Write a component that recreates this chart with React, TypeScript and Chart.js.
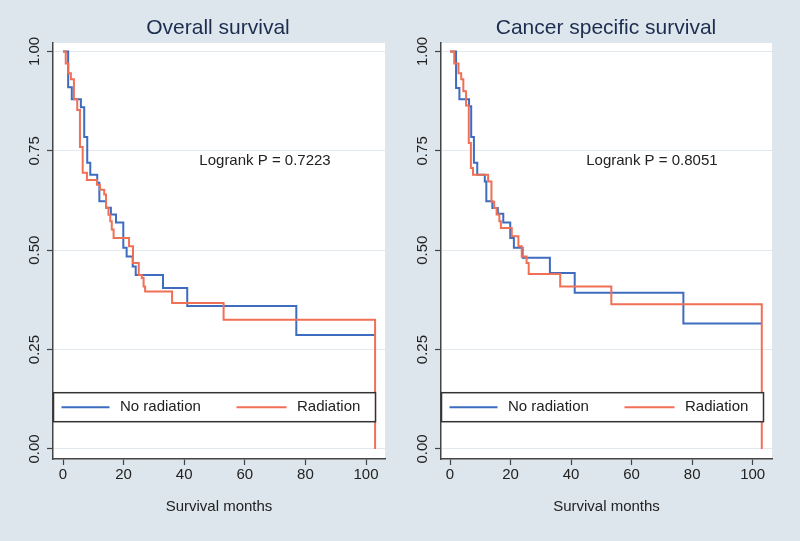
import React, { useEffect, useRef } from 'react';
import { Chart, registerables } from 'chart.js';

Chart.register(...registerables);

// ---- data ----
const xTicks = [0, 20, 40, 60, 80, 100];
const yTicks = [0, 0.25, 0.5, 0.75, 1];
const yTickLabels = ['0.00', '0.25', '0.50', '0.75', '1.00'];
const seriesLabels = ['No radiation', 'Radiation'];
const panelTitles = ['Overall survival', 'Cancer specific survival'];
const logrankLabels = ['Logrank P = 0.7223', 'Logrank P = 0.8051'];
const xAxisTitle = 'Survival months';

// Overall survival
const osNoRadTime = [0, 1.7, 2.9, 5.9, 7, 8, 9, 11.3, 12, 14.2, 15.8, 17.5, 19.9, 21, 23, 24, 33, 41, 77, 103];
const osNoRadSurv = [1, 0.91, 0.88, 0.86, 0.785, 0.72, 0.69, 0.67, 0.623, 0.607, 0.59, 0.57, 0.506, 0.484, 0.459, 0.438, 0.405, 0.36, 0.287, 0.287];
const osRadTime = [0, 0.9, 1.75, 2.6, 3.6, 4.7, 5.6, 6.5, 7.9, 11.2, 12.2, 13.6, 14.2, 15, 15.6, 16.1, 16.7, 21.8, 23.1, 25, 26, 26.6, 27.1, 36, 53, 103];
const osRadSurv = [1, 0.97, 0.945, 0.93, 0.88, 0.853, 0.76, 0.695, 0.677, 0.665, 0.652, 0.64, 0.607, 0.589, 0.573, 0.552, 0.531, 0.51, 0.468, 0.438, 0.43, 0.409, 0.396, 0.367, 0.325, 0];

// Cancer specific survival
const cssNoRadTime = [0, 2, 3.1, 6.3, 7, 7.9, 9, 11.5, 12, 14, 15.8, 17.6, 19.9, 21.1, 24, 33, 41.2, 77.1, 103];
const cssNoRadSurv = [1, 0.908, 0.88, 0.862, 0.785, 0.72, 0.69, 0.673, 0.623, 0.606, 0.592, 0.57, 0.531, 0.506, 0.481, 0.443, 0.393, 0.316, 0.316];
const cssRadTime = [0, 1.4, 2.8, 3.7, 4.4, 5.3, 6.2, 6.9, 7.6, 12.6, 13.7, 14.6, 15.4, 16.3, 16.8, 20.4, 22.6, 23.7, 25.3, 26, 36.4, 53.3, 103];
const cssRadSurv = [1, 0.97, 0.945, 0.93, 0.9, 0.864, 0.77, 0.707, 0.69, 0.673, 0.622, 0.606, 0.59, 0.573, 0.556, 0.535, 0.51, 0.484, 0.468, 0.44, 0.409, 0.364, 0];

const BLUE = '#3d6cc0';
const RED = '#f07056';
const FONT = '"Liberation Sans", Arial, Helvetica, sans-serif';
const TEXT = '#222222';
const AXIS = '#444444';
const GRID = '#e1e9ef';
const BG = '#dde6ec';

const toPoints = (t: number[], s: number[]) => t.map((x, i) => ({ x, y: s[i] }));

const decor = {
  id: 'decor',
  beforeDraw(chart: any) {
    const { ctx, chartArea: a } = chart;
    ctx.save();
    ctx.fillStyle = '#ffffff';
    ctx.fillRect(a.left, a.top, a.right - a.left, a.bottom - a.top);
    ctx.restore();
  },
  afterDatasetsDraw(chart: any) {
    const { ctx, chartArea: a } = chart;
    const L = a.left + 0.5;
    const W = 322;
    const top = a.bottom - 66.3;
    const H = 29;
    const mid = top + H / 2;
    ctx.save();
    ctx.fillStyle = '#ffffff';
    ctx.fillRect(L, top, W, H);
    ctx.lineWidth = 1.5;
    ctx.strokeStyle = '#333333';
    ctx.strokeRect(L, top, W, H);
    ctx.lineWidth = 2;
    ctx.strokeStyle = BLUE;
    ctx.beginPath();
    ctx.moveTo(L + 8, mid);
    ctx.lineTo(L + 56, mid);
    ctx.stroke();
    ctx.strokeStyle = RED;
    ctx.beginPath();
    ctx.moveTo(L + 183, mid);
    ctx.lineTo(L + 233, mid);
    ctx.stroke();
    ctx.fillStyle = TEXT;
    ctx.font = `15px ${FONT}`;
    ctx.textAlign = 'left';
    ctx.textBaseline = 'middle';
    ctx.fillText(seriesLabels[0], L + 66.5, mid);
    ctx.fillText(seriesLabels[1], L + 243.5, mid);
    ctx.restore();
  },
  afterDraw(chart: any, _args: any, opts: any) {
    const { ctx, chartArea: a, scales } = chart;
    ctx.save();
    ctx.fillStyle = TEXT;
    ctx.font = `15px ${FONT}`;
    ctx.textAlign = 'center';
    ctx.textBaseline = 'middle';
    yTicks.forEach((v, i) => {
      const y = scales.y.getPixelForValue(v);
      ctx.save();
      ctx.translate(a.left - 18, y);
      ctx.rotate(-Math.PI / 2);
      ctx.fillText(yTickLabels[i], 0, 0);
      ctx.restore();
    });
    ctx.textAlign = 'left';
    ctx.fillText(opts.pLabel, scales.x.getPixelForValue(45), scales.y.getPixelForValue(0.725));
    ctx.restore();
  },
};

type PanelProps = {
  left: number;
  title: string;
  pLabel: string;
  noRad: { x: number; y: number }[];
  rad: { x: number; y: number }[];
  padL: number;
  padR: number;
  yW: number;
  xMin: number;
  xMax: number;
};

function Panel(p: PanelProps) {
  const ref = useRef<HTMLCanvasElement | null>(null);
  useEffect(() => {
    if (!ref.current) return;
    const chart = new Chart(ref.current, {
      type: 'line',
      data: {
        datasets: [
          {
            label: seriesLabels[1],
            data: p.rad,
            borderColor: RED,
            backgroundColor: RED,
            borderWidth: 2,
            pointRadius: 0,
            stepped: 'before',
            fill: false,
            order: 0,
          },
          {
            label: seriesLabels[0],
            data: p.noRad,
            borderColor: BLUE,
            backgroundColor: BLUE,
            borderWidth: 2,
            pointRadius: 0,
            stepped: 'before',
            fill: false,
            order: 1,
          },
        ],
      },
      options: {
        animation: false,
        responsive: false,
        devicePixelRatio: 1,
        layout: { padding: { left: p.padL, right: p.padR, top: 0, bottom: 0 } },
        plugins: {
          legend: { display: false },
          tooltip: { enabled: false },
          title: {
            display: true,
            text: p.title,
            color: '#1c2d50',
            font: { family: FONT, size: 21, weight: 'normal', lineHeight: 1.2 },
            padding: { top: 15.4, bottom: 2.4 },
          },
          decor: { pLabel: p.pLabel },
        } as any,
        scales: {
          x: {
            type: 'linear',
            min: p.xMin,
            max: p.xMax,
            afterBuildTicks: (s: any) => {
              s.ticks = xTicks.map((v) => ({ value: v }));
            },
            afterFit: (s: any) => {
              s.height = 82;
            },
            ticks: {
              color: TEXT,
              font: { family: FONT, size: 15 },
              padding: 1,
              maxRotation: 0,
              minRotation: 0,
            },
            grid: { drawOnChartArea: false, drawTicks: true, tickLength: 6, tickColor: AXIS, tickWidth: 1.2 },
            border: { display: true, color: AXIS, width: 1.5 },
            title: {
              display: true,
              text: xAxisTitle,
              color: TEXT,
              font: { family: FONT, size: 15 },
              padding: { top: 25, bottom: 25 },
            },
          },
          y: {
            type: 'linear',
            min: -10 / 397,
            max: 1 + (51.7 - 43.2) / 397,
            afterBuildTicks: (s: any) => {
              s.ticks = yTicks.map((v) => ({ value: v }));
            },
            afterFit: (s: any) => {
              s.width = p.yW;
            },
            ticks: { display: false },
            grid: { drawOnChartArea: true, color: GRID, lineWidth: 1, drawTicks: true, tickLength: 6, tickColor: AXIS, tickWidth: 1.2 },
            border: { display: true, color: AXIS, width: 1.5 },
          },
        },
      } as any,
      plugins: [decor as any],
    });
    return () => chart.destroy();
  }, []);
  return (
    <canvas
      ref={ref}
      width={400}
      height={541}
      style={{ position: 'absolute', left: p.left, top: 0, width: 400, height: 541, display: 'block' }}
    />
  );
}

export default function App() {
  return (
    <div style={{ position: 'fixed', left: 0, top: 0, width: 800, height: 541, background: BG, overflow: 'hidden' }}>
      <Panel
        left={0}
        title={panelTitles[0]}
        pLabel={logrankLabels[0]}
        noRad={toPoints(osNoRadTime, osNoRadSurv)}
        rad={toPoints(osRadTime, osRadSurv)}
        padL={51}
        padR={15}
        yW={2}
        xMin={-10 / 3.03}
        xMax={(385 - 63) / 3.03}
      />
      <Panel
        left={400}
        title={panelTitles[1]}
        pLabel={logrankLabels[1]}
        noRad={toPoints(cssNoRadTime, cssNoRadSurv)}
        rad={toPoints(cssRadTime, cssRadSurv)}
        padL={40}
        padR={28}
        yW={1}
        xMin={-9 / 3.027}
        xMax={322 / 3.027}
      />
    </div>
  );
}
